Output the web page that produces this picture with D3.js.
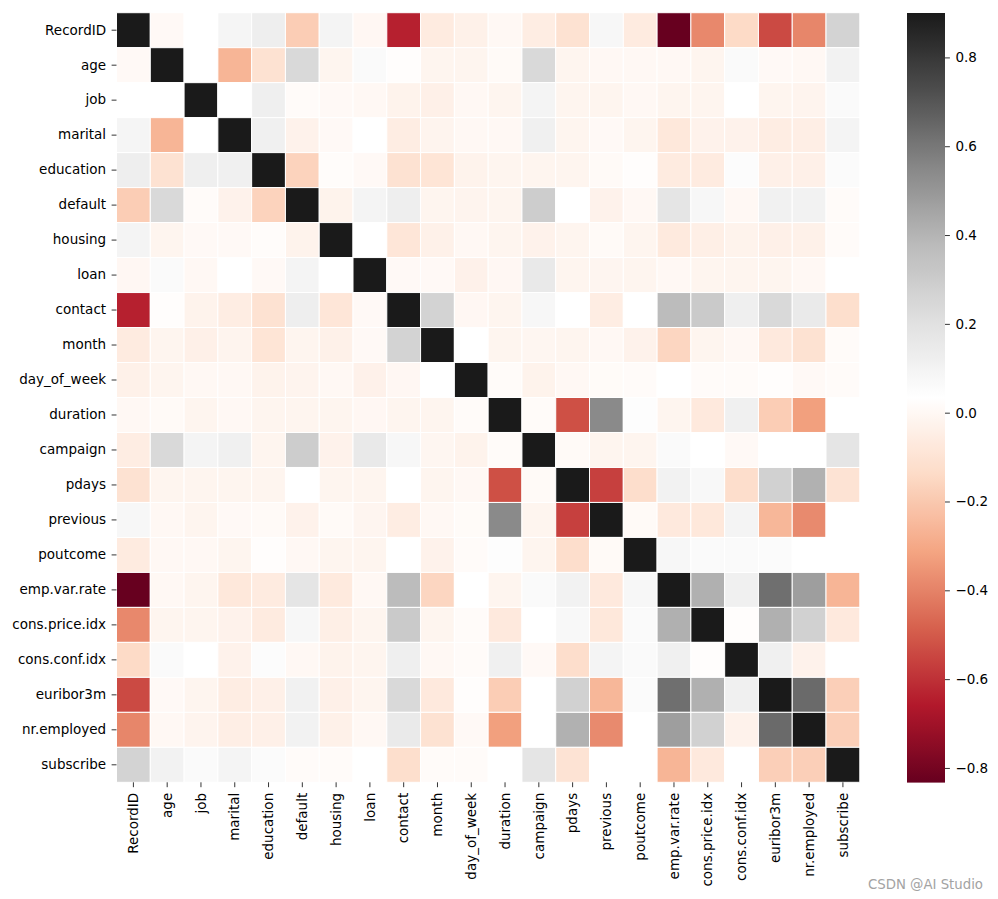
<!DOCTYPE html>
<html>
<head>
<meta charset="utf-8">
<script src="https://cdn.jsdelivr.net/npm/d3@7"></script>
<style>
  body { margin: 0; background: #fff; }
  svg { display: block; }
  text { font-family: "DejaVu Sans", sans-serif; }
</style>
</head>
<body>
<svg id="chart" width="998" height="899"></svg>
<script>
// ---- data ----
const variables = ["RecordID","age","job","marital","education","default","housing","loan","contact","month","day_of_week","duration","campaign","pdays","previous","poutcome","emp.var.rate","cons.price.idx","cons.conf.idx","euribor3m","nr.employed","subscribe"];

const corr = [
  /* RecordID */      [1, 0.005, 0.034, 0.091, 0.130, -0.185, 0.095, -0.005, -0.640, -0.063, -0.034, 0.000, -0.053, -0.106, 0.078, -0.063, -0.833, -0.385, -0.140, -0.539, -0.390, 0.265],
  /* age */           [0.005, 1, 0.034, -0.262, -0.106, 0.239, -0.015, 0.062, 0.024, -0.015, -0.015, 0.009, 0.239, -0.015, 0.000, 0.000, 0.000, -0.015, 0.062, 0.005, 0.000, 0.106],
  /* job */           [0.034, 0.034, 1, 0.034, 0.125, 0.014, 0.005, 0.000, -0.024, -0.039, 0.000, -0.015, 0.095, -0.015, -0.015, 0.000, -0.015, -0.015, 0.034, -0.015, -0.019, 0.062],
  /* marital */       [0.091, -0.262, 0.034, 1, 0.117, -0.029, 0.005, 0.034, -0.053, -0.019, 0.000, 0.000, 0.120, -0.015, 0.006, -0.017, -0.077, -0.029, -0.029, -0.053, -0.048, 0.096],
  /* education */     [0.130, -0.106, 0.125, 0.117, 1, -0.166, 0.019, 0.005, -0.106, -0.092, -0.024, -0.015, -0.015, -0.015, 0.009, 0.024, -0.063, -0.063, 0.048, -0.039, -0.039, 0.058],
  /* default */       [-0.185, 0.239, 0.014, -0.029, -0.166, 1, -0.024, 0.095, 0.130, -0.015, -0.019, -0.015, 0.293, 0.034, -0.029, 0.000, 0.178, 0.078, 0.000, 0.111, 0.106, 0.014],
  /* housing */       [0.095, -0.015, 0.005, 0.005, 0.019, -0.024, 1, 0.034, -0.087, -0.034, 0.000, -0.015, -0.029, -0.015, 0.009, -0.015, -0.068, -0.044, -0.024, -0.039, -0.034, 0.014],
  /* loan */          [-0.005, 0.062, 0.000, 0.034, 0.005, 0.095, 0.034, 1, 0.005, 0.005, -0.032, -0.005, 0.159, -0.015, -0.013, -0.015, 0.000, -0.015, -0.015, -0.015, 0.000, 0.034],
  /* contact */       [-0.640, 0.024, -0.024, -0.053, -0.106, 0.130, -0.087, 0.005, 1, 0.265, -0.005, -0.015, 0.078, 0.034, -0.053, 0.034, 0.370, 0.308, 0.123, 0.239, 0.151, -0.121],
  /* month */         [-0.063, -0.015, -0.039, -0.019, -0.092, -0.015, -0.034, 0.005, 0.265, 1, 0.034, -0.015, -0.010, -0.015, 0.000, -0.029, -0.156, -0.015, 0.000, -0.072, -0.106, 0.014],
  /* day_of_week */   [-0.034, -0.015, 0.000, 0.000, -0.024, -0.019, 0.000, -0.032, -0.005, 0.034, 1, 0.014, -0.026, 0.000, 0.012, 0.014, 0.034, 0.014, 0.014, 0.024, 0.005, 0.014],
  /* duration */      [0.000, 0.009, -0.015, 0.000, -0.015, -0.015, -0.015, -0.005, -0.015, -0.015, 0.014, 1, 0.014, -0.525, 0.544, 0.043, -0.015, -0.072, 0.120, -0.185, -0.326, 0.034],
  /* campaign */      [-0.053, 0.239, 0.095, 0.120, -0.015, 0.293, -0.029, 0.159, 0.078, -0.010, -0.026, 0.014, 1, 0.009, -0.015, -0.015, 0.062, 0.034, 0.005, 0.034, 0.034, 0.178],
  /* pdays */         [-0.106, -0.015, -0.015, -0.015, -0.015, 0.034, -0.015, -0.015, 0.034, -0.015, 0.000, -0.525, 0.009, 1, -0.563, -0.125, 0.106, 0.072, -0.125, 0.274, 0.409, -0.101],
  /* previous */      [0.078, 0.000, -0.015, 0.006, 0.009, -0.029, 0.009, -0.013, -0.053, 0.000, 0.012, 0.544, -0.015, -0.563, 1, 0.009, -0.072, -0.077, 0.095, -0.255, -0.380, 0.034],
  /* poutcome */      [-0.063, 0.000, 0.000, -0.017, 0.024, 0.000, -0.015, -0.015, 0.034, -0.029, 0.014, 0.043, -0.015, -0.125, 0.009, 1, 0.078, 0.062, 0.062, 0.058, 0.034, 0.034],
  /* emp.var.rate */  [-0.833, 0.000, -0.015, -0.077, -0.063, 0.178, -0.068, 0.000, 0.370, -0.156, 0.034, -0.015, 0.062, 0.106, -0.072, 0.078, 1, 0.414, 0.117, 0.625, 0.476, -0.262],
  /* cons.price.idx */[-0.385, -0.015, -0.015, -0.029, -0.063, 0.078, -0.044, -0.015, 0.308, -0.015, 0.014, -0.072, 0.034, 0.072, -0.077, 0.062, 0.414, 1, 0.024, 0.414, 0.274, -0.072],
  /* cons.conf.idx */ [-0.140, 0.062, 0.034, -0.029, 0.048, 0.000, -0.024, -0.015, 0.123, 0.000, 0.014, 0.120, 0.005, -0.125, 0.095, 0.062, 0.117, 0.024, 1, 0.117, -0.029, 0.034],
  /* euribor3m */     [-0.539, 0.005, -0.015, -0.053, -0.039, 0.111, -0.039, -0.015, 0.239, -0.072, 0.024, -0.185, 0.034, 0.274, -0.255, 0.058, 0.625, 0.414, 0.117, 1, 0.640, -0.178],
  /* nr.employed */   [-0.390, 0.000, -0.019, -0.048, -0.039, 0.106, -0.034, 0.000, 0.151, -0.106, 0.005, -0.326, 0.034, 0.409, -0.380, 0.034, 0.476, 0.274, -0.029, 0.640, 1, -0.178],
  /* subscribe */     [0.265, 0.106, 0.062, 0.096, 0.058, 0.014, 0.014, 0.034, -0.121, 0.014, 0.014, 0.034, 0.178, -0.101, 0.034, 0.034, -0.262, -0.072, 0.034, -0.178, -0.178, 1]
];

const colorbarTicks = [0.8, 0.6, 0.4, 0.2, 0.0, -0.2, -0.4, -0.6, -0.8];
const rdgyColors = ["#67001f","#b2182b","#d6604d","#f4a582","#fddbc7","#ffffff","#e0e0e0","#bababa","#878787","#4d4d4d","#1a1a1a"];
const vmax = 0.9;
const watermark = "CSDN @AI Studio";

// ---- layout ----
const svg = d3.select("#chart");
const plot = { left: 116.5, right: 859.8, top: 12.7, bottom: 782.3 };
const cbar = { left: 907, right: 945 };

const cells = [];
corr.forEach((row, i) => row.forEach((v, j) => cells.push({ r: variables[i], c: variables[j], v })));
const vmin = d3.min(cells, d => d.v);

const x = d3.scaleBand().domain(variables).range([plot.left, plot.right]).padding(0);
const y = d3.scaleBand().domain(variables).range([plot.top, plot.bottom]).padding(0);

// RdGy colormap stretched over [vmin, vmax]
const color = d3.scaleLinear()
  .domain(rdgyColors.map((_, k) => vmin + k * (vmax - vmin) / (rdgyColors.length - 1)))
  .range(rdgyColors)
  .interpolate(d3.interpolateRgb)
  .clamp(true);

// cells
svg.append("g").selectAll("rect").data(cells).join("rect")
  .attr("x", d => x(d.c))
  .attr("y", d => y(d.r))
  .attr("width", x.bandwidth())
  .attr("height", y.bandwidth())
  .attr("fill", d => color(d.v))
  .attr("stroke", "#ffffff")
  .attr("stroke-width", 1);

// axes
const yAxis = d3.axisLeft(y).tickSize(4.9).tickPadding(5.5);
const gy = svg.append("g").attr("transform", `translate(${plot.left},0)`).call(yAxis);
gy.select(".domain").remove();
gy.selectAll(".tick line").attr("stroke", "#000").attr("stroke-width", 0.8);
gy.selectAll(".tick text").attr("font-size", "13.5px").attr("fill", "#000")
  .attr("font-family", "DejaVu Sans");

const xAxis = d3.axisBottom(x).tickSize(4.9).tickPadding(3.5);
const gx = svg.append("g").attr("transform", `translate(0,${plot.bottom})`).call(xAxis);
gx.select(".domain").remove();
gx.selectAll(".tick line").attr("stroke", "#000").attr("stroke-width", 0.8);
gx.selectAll(".tick text")
  .attr("font-size", "13.5px").attr("fill", "#000").attr("font-family", "DejaVu Sans")
  .attr("transform", "rotate(-90)")
  .attr("text-anchor", "end")
  .attr("x", -10.5)
  .attr("y", 0)
  .attr("dy", "0.35em");

// colorbar
const cy = d3.scaleLinear().domain([vmin, vmax]).range([plot.bottom + 0.3, plot.top + 0.3]);
const defs = svg.append("defs");
const grad = defs.append("linearGradient").attr("id", "cbgrad")
  .attr("x1", 0).attr("y1", 1).attr("x2", 0).attr("y2", 0);
d3.range(0, 1.0001, 1 / 100).forEach(t => {
  grad.append("stop").attr("offset", t).attr("stop-color", color(vmin + t * (vmax - vmin)));
});
svg.append("rect")
  .attr("x", cbar.left).attr("y", cy(vmax))
  .attr("width", cbar.right - cbar.left)
  .attr("height", cy(vmin) - cy(vmax))
  .attr("fill", "url(#cbgrad)");

const cAxis = d3.axisRight(cy).tickValues(colorbarTicks).tickSize(4.9).tickPadding(5.5)
  .tickFormat(d => d3.format(".1f")(d).replace("-", "\u2212"));
const gc = svg.append("g").attr("transform", `translate(${cbar.right},0)`).call(cAxis);
gc.select(".domain").remove();
gc.selectAll(".tick line").attr("stroke", "#000").attr("stroke-width", 0.8);
gc.selectAll(".tick text").attr("font-size", "13.5px").attr("fill", "#000")
  .attr("font-family", "DejaVu Sans");

// watermark
svg.append("text")
  .attr("x", 983).attr("y", 889)
  .attr("text-anchor", "end")
  .attr("font-family", "Liberation Sans, Arial, sans-serif")
  .attr("font-size", "13.3px")
  .attr("fill", "#a3a3a3")
  .text(watermark);
</script>
</body>
</html>
